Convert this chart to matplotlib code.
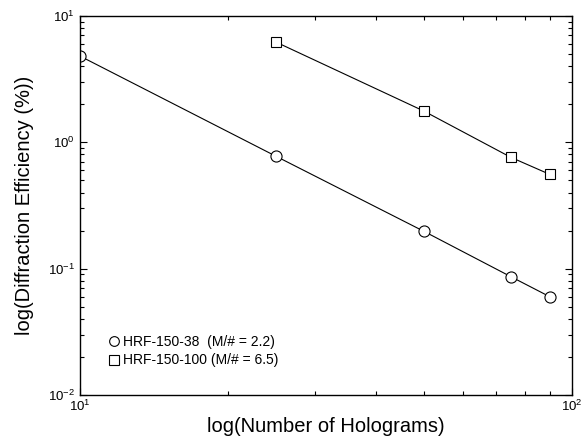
import matplotlib.pyplot as plt
from matplotlib.lines import Line2D
from matplotlib.ticker import NullFormatter

plt.rcParams['font.family'] = ['Liberation Sans', 'DejaVu Sans']
plt.rcParams['mathtext.fontset'] = 'custom'
plt.rcParams['mathtext.rm'] = 'Liberation Sans'

# data
holo_38 = [10, 25, 50, 75, 90]
eff_38 = [4.8, 0.775, 0.197, 0.0865, 0.060]
holo_100 = [25, 50, 75, 90]
eff_100 = [6.2, 1.76, 0.76, 0.557]

label_38 = 'HRF-150-38  (M/# = 2.2)'
label_100 = 'HRF-150-100 (M/# = 6.5)'

fig = plt.figure(figsize=(5.86, 4.38), dpi=100)
ax = fig.add_axes([0.1365, 0.098, 0.84, 0.866])

ax.plot(holo_38, eff_38, color='black', lw=0.8, marker='o', ms=8,
        mfc='white', mec='black', mew=0.8)
ax.plot(holo_100, eff_100, color='black', lw=0.8, marker='s', ms=7,
        mfc='white', mec='black', mew=0.8)

ax.set_xscale('log')
ax.set_yscale('log')
ax.set_xlim(10, 100)
ax.set_ylim(0.01, 10)
ax.xaxis.set_minor_formatter(NullFormatter())
ax.yaxis.set_minor_formatter(NullFormatter())

ax.tick_params(which='both', direction='in', top=True, right=True,
               labelsize=9.5, width=0.8)
ax.tick_params(which='major', length=5)
ax.tick_params(which='minor', length=3)
ax.tick_params(axis='x', pad=3)
for s in ax.spines.values():
    s.set_linewidth(1.0)

ax.set_xlabel('log(Number of Holograms)', fontsize=14.5, labelpad=2)
ax.set_ylabel('log(Diffraction Efficiency (%))', fontsize=14.5, labelpad=10)

handles = [
    Line2D([], [], ls='none', marker='o', ms=7, mfc='white', mec='black', mew=0.8),
    Line2D([], [], ls='none', marker='s', ms=6.5, mfc='white', mec='black', mew=0.8),
]
ax.legend(handles, [label_38, label_100], loc='lower left',
          bbox_to_anchor=(0.03, 0.04), frameon=False, fontsize=10,
          handletextpad=0.1, handlelength=1.0, labelspacing=0.3)

fig.savefig('out.png', dpi=100)
